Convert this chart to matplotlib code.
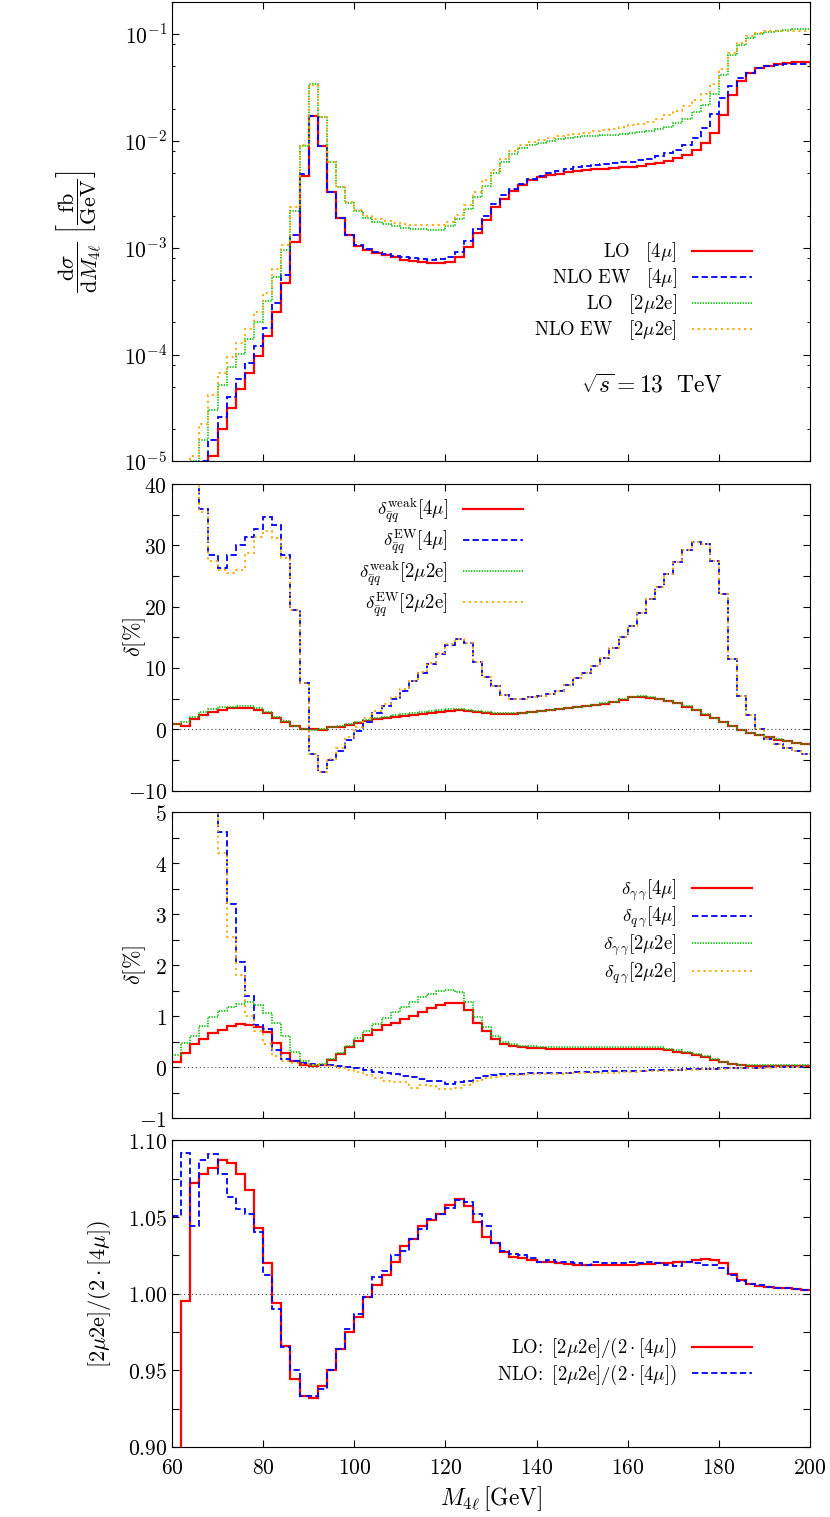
import matplotlib
matplotlib.use("Agg")
import matplotlib.pyplot as plt
import numpy as np
from matplotlib.lines import Line2D
from matplotlib.ticker import MultipleLocator, FuncFormatter, LogLocator, NullFormatter, FixedLocator

plt.rcParams["mathtext.fontset"] = "cm"
plt.rcParams["font.family"] = "serif"
plt.rcParams["font.serif"] = ["DejaVu Serif"]

# bin edges of M_4l in GeV (2 GeV bins)
edges = np.arange(60, 202, 2)

# --- panel 1: dsigma/dM4l, stored as log10(fb/GeV) ---
lo_4mu_log = [
    -5.8, -5.6, -5.4, -5.2, -4.95, -4.70, -4.50, -4.32, -4.17, -4.01,
    -3.83, -3.60, -3.33, -2.95, -2.33, -1.77, -2.05, -2.48, -2.72, -2.88,
    -2.98, -3.02, -3.05, -3.07, -3.09, -3.11, -3.12, -3.13, -3.14, -3.145,
    -3.13, -3.09, -2.99, -2.86, -2.74, -2.62, -2.54, -2.47, -2.41, -2.37,
    -2.34, -2.32, -2.305, -2.29, -2.28, -2.27, -2.265, -2.26, -2.255, -2.245,
    -2.24, -2.23, -2.22, -2.205, -2.19, -2.16, -2.13, -2.08, -2.02, -1.93,
    -1.76, -1.57, -1.44, -1.36, -1.32, -1.30, -1.28, -1.27, -1.265, -1.26,
]
nlo_4mu_log = [
    -5.6, -5.4, -5.2, -5.0, -4.80, -4.58, -4.40, -4.23, -4.08, -3.92,
    -3.75, -3.52, -3.25, -2.88, -2.31, -1.77, -2.05, -2.48, -2.72, -2.88,
    -2.97, -3.01, -3.04, -3.06, -3.075, -3.09, -3.10, -3.105, -3.11, -3.105,
    -3.09, -3.04, -2.94, -2.82, -2.70, -2.59, -2.51, -2.45, -2.40, -2.36,
    -2.33, -2.30, -2.28, -2.26, -2.24, -2.23, -2.225, -2.22, -2.21, -2.20,
    -2.195, -2.18, -2.165, -2.14, -2.115, -2.08, -2.04, -1.97, -1.88, -1.75,
    -1.60, -1.49, -1.41, -1.36, -1.32, -1.30, -1.285, -1.28, -1.278, -1.277,
]
lo_2mu2e_log = [
    -5.4, -5.2, -5.0, -4.80, -4.52, -4.28, -4.12, -3.99, -3.85, -3.69,
    -3.50, -3.27, -3.02, -2.66, -2.05, -1.47, -1.78, -2.20, -2.43, -2.58,
    -2.66, -2.72, -2.76, -2.78, -2.80, -2.81, -2.82, -2.825, -2.83, -2.83,
    -2.80, -2.73, -2.64, -2.52, -2.42, -2.30, -2.20, -2.12, -2.07, -2.04,
    -2.02, -2.00, -1.985, -1.97, -1.96, -1.955, -1.95, -1.945, -1.94, -1.935,
    -1.93, -1.92, -1.91, -1.89, -1.87, -1.83, -1.79, -1.73, -1.66, -1.56,
    -1.38, -1.20, -1.10, -1.04, -1.00, -0.98, -0.97, -0.96, -0.955, -0.955,
]
nlo_2mu2e_log = [
    -5.3, -5.1, -4.95, -4.65, -4.38, -4.17, -4.02, -3.89, -3.76, -3.60,
    -3.42, -3.20, -2.97, -2.62, -2.04, -1.48, -1.78, -2.20, -2.43, -2.57,
    -2.65, -2.70, -2.73, -2.75, -2.77, -2.78, -2.785, -2.79, -2.79, -2.785,
    -2.76, -2.69, -2.60, -2.48, -2.37, -2.27, -2.17, -2.09, -2.04, -2.01,
    -1.99, -1.97, -1.955, -1.945, -1.935, -1.925, -1.91, -1.90, -1.885, -1.87,
    -1.855, -1.84, -1.82, -1.79, -1.76, -1.72, -1.67, -1.62, -1.56, -1.47,
    -1.33, -1.18, -1.08, -1.02, -0.99, -0.975, -0.97, -0.967, -0.966, -0.966,
]

# --- panel 2: relative corrections delta_qq [%] ---
weak_4mu = [
    0.8, 0.5, 1.6, 2.3, 2.8, 3.2, 3.4, 3.5, 3.5, 3.2,
    2.6, 1.9, 1.2, 0.5, 0.1, 0.1, -0.1, 0.3, 0.4, 0.7,
    1.0, 1.35, 1.6, 1.85, 2.05, 2.2, 2.35, 2.5, 2.65, 2.8,
    3.0, 3.1, 3.0, 2.85, 2.65, 2.55, 2.55, 2.55, 2.6, 2.8,
    2.95, 3.1, 3.25, 3.4, 3.55, 3.75, 3.95, 4.15, 4.45, 4.8,
    5.2, 5.3, 5.15, 4.9, 4.6, 4.2, 3.7, 3.1, 2.4, 1.8,
    1.1, 0.5, -0.1, -0.6, -1.0, -1.35, -1.7, -2.0, -2.25, -2.45,
]
ew_4mu = [
    60, 50, 42, 36, 28.5, 26.3, 28.4, 30.0, 31.3, 32.6,
    34.6, 33.3, 28.5, 19.5, 7.5, -4, -7, -5, -3.5, -1.8,
    -0.3, 1.2, 2.6, 3.8, 5.0, 6.3, 7.8, 9.2, 10.6, 12.3,
    13.8, 14.8, 14.0, 11.0, 8.5, 7.0, 5.6, 5.0, 4.95, 5.2,
    5.5, 5.8, 6.3, 7.2, 8.3, 9.2, 10.3, 11.7, 13.3, 15.0,
    16.8, 19.0, 21.2, 23.2, 25.4, 27.3, 29.2, 30.6, 30.2, 27.5,
    22.0, 11.5, 5.5, 2.3, 0.0, -1.6, -2.4, -3.0, -3.5, -4.0,
]
weak_2mu2e = [
    0.8, 1.2, 2.0, 2.8, 3.3, 3.6, 3.7, 3.8, 3.8, 3.4,
    2.8, 2.0, 1.3, 0.6, 0.0, -0.2, 0.1, 0.4, 0.6, 0.9,
    1.2, 1.5, 1.8, 2.05, 2.3, 2.5, 2.65, 2.8, 2.95, 3.1,
    3.3, 3.35, 3.2, 3.0, 2.8, 2.7, 2.65, 2.65, 2.7, 2.85,
    3.0, 3.15, 3.3, 3.45, 3.6, 3.8, 4.0, 4.2, 4.5, 4.85,
    5.25, 5.35, 5.2, 4.95, 4.65, 4.25, 3.75, 3.15, 2.45, 1.85,
    1.15, 0.55, -0.05, -0.55, -0.95, -1.3, -1.65, -1.95, -2.2, -2.4,
]
ew_2mu2e = [
    60, 50, 42, 35.5, 27.5, 26.0, 25.5, 26.0, 28.7, 31.4,
    32.4, 31.2, 28.0, 19.5, 7.5, -4, -7, -4.8, -3.0, -1.3,
    0.3, 1.8, 3.0, 4.1, 5.2, 6.5, 7.9, 9.3, 10.8, 12.4,
    13.9, 14.8, 14.0, 11.0, 8.5, 7.0, 5.6, 5.0, 4.95, 5.2,
    5.5, 5.8, 6.3, 7.2, 8.3, 9.2, 10.3, 11.7, 13.3, 15.0,
    16.8, 19.0, 21.2, 23.2, 25.4, 27.3, 29.2, 30.6, 30.2, 27.5,
    22.0, 11.5, 5.5, 2.3, 0.0, -1.6, -2.4, -3.0, -3.5, -4.0,
]

# --- panel 3: photon-induced corrections [%] ---
gamgam_4mu = [
    0.10, 0.28, 0.45, 0.56, 0.67, 0.74, 0.81, 0.845, 0.84, 0.80,
    0.69, 0.48, 0.28, 0.12, 0.04, 0.03, 0.05, 0.15, 0.27, 0.40,
    0.52, 0.64, 0.73, 0.83, 0.87, 0.94, 1.00, 1.08, 1.16, 1.23,
    1.27, 1.26, 1.12, 0.86, 0.72, 0.56, 0.46, 0.41, 0.39, 0.38,
    0.375, 0.37, 0.37, 0.37, 0.37, 0.37, 0.37, 0.37, 0.37, 0.37,
    0.37, 0.37, 0.37, 0.36, 0.34, 0.31, 0.28, 0.24, 0.20, 0.15,
    0.10, 0.06, 0.04, 0.035, 0.03, 0.03, 0.03, 0.03, 0.03, 0.03,
]
qgam_4mu = [
    12, 10, 8.5, 7, 5.8, 4.6, 3.2, 2.07, 1.4, 0.84,
    0.75, 0.35, 0.16, 0.12, 0.08, 0.065, 0.055, 0.04, 0.02, 0.007,
    -0.02, -0.05, -0.09, -0.11, -0.12, -0.16, -0.19, -0.23, -0.27, -0.27,
    -0.33, -0.29, -0.26, -0.20, -0.16, -0.14, -0.13, -0.12, -0.12, -0.11,
    -0.11, -0.10, -0.10, -0.10, -0.09, -0.09, -0.09, -0.08, -0.08, -0.08,
    -0.07, -0.07, -0.06, -0.06, -0.05, -0.05, -0.04, -0.04, -0.03, -0.03,
    -0.02, -0.02, -0.01, -0.01, -0.01, 0.0, 0.0, 0.0, 0.0, 0.0,
]
gamgam_2mu2e = [
    0.25, 0.48, 0.62, 0.82, 0.98, 1.10, 1.18, 1.24, 1.28, 1.22,
    1.07, 0.87, 0.62, 0.30, 0.12, 0.05, 0.07, 0.16, 0.28, 0.42,
    0.58, 0.72, 0.85, 0.97, 1.08, 1.19, 1.29, 1.37, 1.44, 1.49,
    1.52, 1.47, 1.28, 0.98, 0.80, 0.62, 0.50, 0.45, 0.42, 0.41,
    0.40, 0.40, 0.40, 0.40, 0.40, 0.40, 0.40, 0.40, 0.40, 0.40,
    0.40, 0.40, 0.395, 0.39, 0.37, 0.34, 0.31, 0.27, 0.22, 0.17,
    0.11, 0.07, 0.05, 0.04, 0.04, 0.04, 0.04, 0.04, 0.04, 0.04,
]
qgam_2mu2e = [
    11, 9.5, 8, 6.5, 5.3, 4.2, 2.55, 1.8, 1.0, 0.72,
    0.45, 0.22, 0.13, 0.08, 0.06, 0.05, 0.04, 0.03, -0.02, -0.06,
    -0.09, -0.15, -0.21, -0.26, -0.29, -0.29, -0.40, -0.34, -0.37, -0.43,
    -0.42, -0.40, -0.35, -0.26, -0.21, -0.18, -0.16, -0.15, -0.14, -0.13,
    -0.13, -0.12, -0.12, -0.11, -0.11, -0.11, -0.10, -0.10, -0.10, -0.09,
    -0.09, -0.08, -0.08, -0.07, -0.07, -0.06, -0.05, -0.05, -0.04, -0.04,
    -0.03, -0.02, -0.02, -0.01, -0.01, -0.01, 0.0, 0.0, 0.0, 0.0,
]

# --- panel 4: ratio [2mu2e]/(2*[4mu]) ---
ratio_lo = [
    0.85, 0.995, 1.072, 1.078, 1.082, 1.087, 1.085, 1.078, 1.068, 1.043,
    1.020, 0.994, 0.966, 0.944, 0.933, 0.932, 0.940, 0.950, 0.964, 0.975,
    0.985, 0.998, 1.006, 1.012, 1.021, 1.031, 1.036, 1.044, 1.048, 1.052,
    1.058, 1.062, 1.057, 1.047, 1.037, 1.033, 1.027, 1.024, 1.023, 1.022,
    1.021, 1.0205, 1.020, 1.0195, 1.019, 1.019, 1.0187, 1.0187, 1.0187, 1.0188,
    1.019, 1.0192, 1.0195, 1.020, 1.020, 1.0205, 1.021, 1.022, 1.0225, 1.022,
    1.020, 1.013, 1.009, 1.0065, 1.005, 1.0045, 1.004, 1.0035, 1.003, 1.0025,
]
ratio_nlo = [
    1.051, 1.092, 1.044, 1.087, 1.091, 1.078, 1.063, 1.055, 1.052, 1.040,
    1.012, 0.990, 0.965, 0.950, 0.933, 0.933, 0.938, 0.950, 0.964, 0.977,
    0.987, 0.998, 1.011, 1.015, 1.025, 1.028, 1.036, 1.042, 1.049, 1.052,
    1.056, 1.061, 1.060, 1.052, 1.044, 1.033, 1.028, 1.026, 1.025, 1.023,
    1.021, 1.022, 1.021, 1.021, 1.020, 1.019, 1.021, 1.020, 1.020, 1.020,
    1.021, 1.020, 1.021, 1.020, 1.019, 1.018, 1.0205, 1.020, 1.019, 1.0185,
    1.017, 1.012, 1.008, 1.0065, 1.0055, 1.0045, 1.004, 1.0035, 1.003, 1.0025,
]

# line styles (gnuplot-like)
RED = dict(color="#ff0000", linewidth=1.6, linestyle="-")
BLUE = dict(color="#0000ff", linewidth=1.3, linestyle=(0, (3.5, 1.8)))
GREEN = dict(color="#00c000", linewidth=1.2, linestyle=(0, (0.8, 0.8)))
ORANGE = dict(color="#ffa500", linewidth=1.3, linestyle=(0, (1.2, 2.0)))

TICK_FS = 15.5
LEG_FS = 13.5


def style_axis(ax):
    ax.set_xlim(60, 200)
    ax.xaxis.set_major_locator(MultipleLocator(20))
    ax.tick_params(which="both", direction="in", top=True, right=True,
                   labelsize=TICK_FS, width=0.8)
    ax.tick_params(which="major", length=5)
    ax.tick_params(which="minor", length=5)
    ax.tick_params(axis="x", pad=7)
    ax.xaxis.set_major_formatter(FuncFormatter(lambda v, p: r"$%d$" % v))
    for s in ax.spines.values():
        s.set_linewidth(0.8)


def add_legend(ax, styles, labels, x, y):
    handles = [Line2D([], [], **st) for st in styles]
    ax.legend(handles, labels, loc="center right", bbox_to_anchor=(x, y),
              frameon=False, markerfirst=False, fontsize=LEG_FS,
              handlelength=3.2, handletextpad=0.8, labelspacing=0.12,
              borderpad=0, borderaxespad=0)


fig = plt.figure(figsize=(8.3, 15.17), dpi=100)
L, W = 0.2072, 0.7687
ax1 = fig.add_axes([L, 0.6958, W, 0.3029])
ax2 = fig.add_axes([L, 0.4789, W, 0.2020])
ax3 = fig.add_axes([L, 0.2627, W, 0.2020])
ax4 = fig.add_axes([L, 0.0462, W, 0.2020])

# panel 1
for vals, st in [(lo_4mu_log, RED), (nlo_4mu_log, BLUE),
                 (lo_2mu2e_log, GREEN), (nlo_2mu2e_log, ORANGE)]:
    ax1.stairs(np.power(10.0, vals), edges, baseline=None, **st)
ax1.set_yscale("log")
ax1.set_ylim(1e-5, 0.2)
style_axis(ax1)
ax1.yaxis.set_major_locator(LogLocator(base=10, numticks=10))
ax1.yaxis.set_minor_locator(LogLocator(base=10, subs=[2, 5, 8], numticks=10))
ax1.yaxis.set_minor_formatter(NullFormatter())
ax1.yaxis.set_major_formatter(FuncFormatter(lambda v, p: r"$10^{%d}$" % int(round(np.log10(v)))))
ax1.tick_params(which="minor", length=2.5)
ax1.tick_params(labelbottom=False)
ax1.set_ylabel(r"$\dfrac{\mathrm{d}\sigma}{\mathrm{d}M_{4\ell}}\ \left[\dfrac{\mathrm{fb}}{\mathrm{GeV}}\right]$",
               fontsize=16)
ax1.yaxis.set_label_coords(-0.107, 0.5)
add_legend(ax1, [RED, BLUE, GREEN, ORANGE],
           [r"$\mathrm{LO}\ \ \ [4\mu]$", r"$\mathrm{NLO\ EW}\ \ \ [4\mu]$",
            r"$\mathrm{LO}\ \ \ [2\mu2\mathrm{e}]$", r"$\mathrm{NLO\ EW}\ \ \ [2\mu2\mathrm{e}]$"],
           0.909, 0.3706)
ax1.text(0.753, 0.165, r"$\sqrt{s} = 13\ \ \mathrm{TeV}$", transform=ax1.transAxes,
         ha="center", va="center", fontsize=17)

# panel 2
ax2.axhline(0, color="#404040", linewidth=0.8, linestyle=(0, (1, 2.5)), zorder=1)
for vals, st in [(weak_4mu, RED), (ew_4mu, BLUE), (weak_2mu2e, GREEN), (ew_2mu2e, ORANGE)]:
    ax2.stairs(vals, edges, baseline=None, **st)
ax2.set_ylim(-10, 40)
style_axis(ax2)
ax2.yaxis.set_major_locator(MultipleLocator(10))
ax2.yaxis.set_minor_locator(MultipleLocator(5))
ax2.yaxis.set_major_formatter(FuncFormatter(lambda v, p: r"$%d$" % round(v)))
ax2.tick_params(labelbottom=False)
ax2.set_ylabel(r"$\delta[\%]$", fontsize=16)
ax2.yaxis.set_label_coords(-0.037, 0.5)
add_legend(ax2, [RED, BLUE, GREEN, ORANGE],
           [r"$\delta^{\mathrm{weak}}_{\bar{q}q}[4\mu]$", r"$\delta^{\mathrm{EW}}_{\bar{q}q}[4\mu]$",
            r"$\delta^{\mathrm{weak}}_{\bar{q}q}[2\mu2\mathrm{e}]$", r"$\delta^{\mathrm{EW}}_{\bar{q}q}[2\mu2\mathrm{e}]$"],
           0.550, 0.7605)

# panel 3
ax3.axhline(0, color="#404040", linewidth=0.8, linestyle=(0, (1, 2.5)), zorder=1)
for vals, st in [(gamgam_4mu, RED), (qgam_4mu, BLUE), (gamgam_2mu2e, GREEN), (qgam_2mu2e, ORANGE)]:
    ax3.stairs(vals, edges, baseline=None, **st)
ax3.set_ylim(-1, 5)
style_axis(ax3)
ax3.yaxis.set_major_locator(MultipleLocator(1))
ax3.yaxis.set_minor_locator(MultipleLocator(0.5))
ax3.yaxis.set_major_formatter(FuncFormatter(lambda v, p: r"$%d$" % round(v)))
ax3.tick_params(labelbottom=False)
ax3.set_ylabel(r"$\delta[\%]$", fontsize=16)
ax3.yaxis.set_label_coords(-0.037, 0.5)
add_legend(ax3, [RED, BLUE, GREEN, ORANGE],
           [r"$\delta_{\gamma\,\gamma}[4\mu]$", r"$\delta_{q\,\gamma}[4\mu]$",
            r"$\delta_{\gamma\,\gamma}[2\mu2\mathrm{e}]$", r"$\delta_{q\,\gamma}[2\mu2\mathrm{e}]$"],
           0.909, 0.610)

# panel 4
ax4.axhline(1, color="#404040", linewidth=0.8, linestyle=(0, (1, 2.5)), zorder=1)
for vals, st in [(ratio_lo, RED), (ratio_nlo, BLUE)]:
    ax4.stairs(vals, edges, baseline=None, **st)
ax4.set_ylim(0.90, 1.10)
style_axis(ax4)
ax4.yaxis.set_major_locator(FixedLocator([0.90, 0.95, 1.00, 1.05, 1.10]))
ax4.yaxis.set_minor_locator(FixedLocator([0.925, 0.975, 1.025, 1.075]))
ax4.yaxis.set_major_formatter(FuncFormatter(lambda v, p: r"$%.2f$" % v))
ax4.set_ylabel(r"$[2\mu2\mathrm{e}]/(2\cdot[4\mu])$", fontsize=16)
ax4.yaxis.set_label_coords(-0.093, 0.5)
ax4.set_xlabel(r"$M_{4\ell}\,[\mathrm{GeV}]$", fontsize=17)
add_legend(ax4, [RED, BLUE],
           [r"$\mathrm{LO}\!:\ [2\mu2\mathrm{e}]/(2\cdot[4\mu])$",
            r"$\mathrm{NLO}\!:\ [2\mu2\mathrm{e}]/(2\cdot[4\mu])$"],
           0.909, 0.279)

fig.savefig("out.png", dpi=100)
